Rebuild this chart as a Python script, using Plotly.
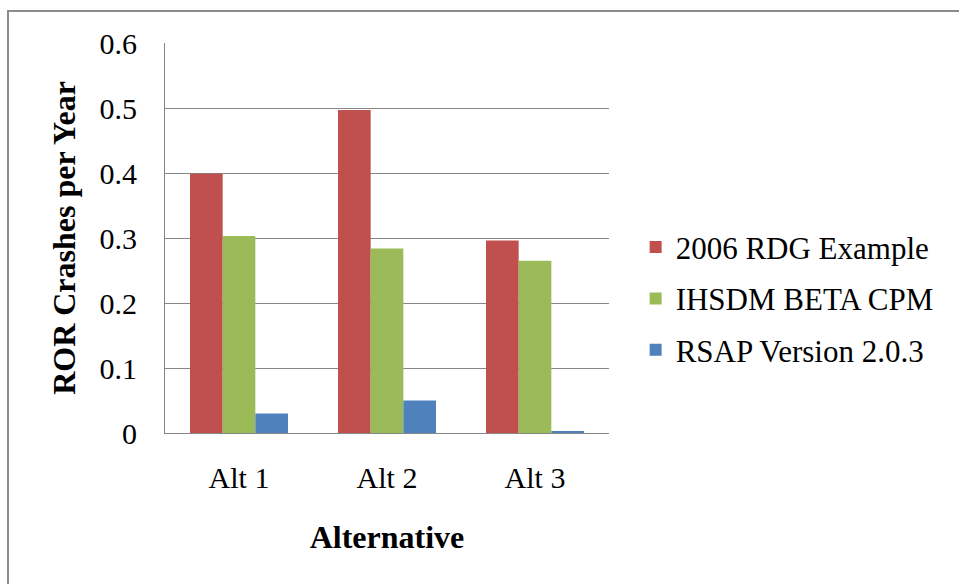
import plotly.graph_objects as go

categories = ["Alt 1", "Alt 2", "Alt 3"]
rdg_2006 = [0.399, 0.497, 0.296]
ihsdm_beta = [0.303, 0.284, 0.265]
rsap_203 = [0.030, 0.050, 0.003]
series_names = ["2006 RDG Example", "IHSDM BETA CPM", "RSAP Version 2.0.3"]
colors = ["#C0504D", "#9BBB59", "#4F81BD"]
y_ticks = [0, 0.1, 0.2, 0.3, 0.4, 0.5, 0.6]
y_tick_text = ["0", "0.1", "0.2", "0.3", "0.4", "0.5", "0.6"]

fig = go.Figure()
for name, vals, col in zip(series_names, [rdg_2006, ihsdm_beta, rsap_203], colors):
    fig.add_trace(go.Bar(x=categories, y=vals, name=name, marker_color=col,
                         marker_line_width=0, legendgroup=name))

font = "Liberation Serif"
fig.update_layout(
    width=959, height=584,
    margin=dict(l=165, r=350, t=43, b=151, autoexpand=False),
    paper_bgcolor="white", plot_bgcolor="white",
    barmode="group", bargap=0.338, bargroupgap=0,
    font=dict(family=font, color="black", size=30),
    showlegend=True,
    legend=dict(x=1.06, xanchor="left", y=0.345, yanchor="middle",
                font=dict(size=31, family=font, color="black"), tracegroupgap=8,
                traceorder="grouped", bgcolor="rgba(0,0,0,0)"),
    xaxis=dict(showline=True, linecolor="#868686", linewidth=1, ticks="",
               tickfont=dict(size=30, family=font, color="black"), ticklabelstandoff=18,
               title=dict(text="<b>Alternative</b>", font=dict(size=32, family=font, color="black"), standoff=32),
               automargin=False),
    yaxis=dict(range=[0, 0.6], tickvals=y_ticks, ticktext=y_tick_text,
               showline=True, linecolor="#868686", linewidth=1,
               showgrid=True, gridcolor="#868686", gridwidth=1, zeroline=False,
               ticks="", tickfont=dict(size=30, family=font, color="black"), ticklabelstandoff=21,
               title=dict(text="<b>ROR Crashes per Year</b>", font=dict(size=32, family=font, color="black"), standoff=14),
               automargin=False),
)

fig.add_shape(type="rect", xref="paper", yref="paper",
              x0=(8 - 165) / 444, x1=2.0, y0=-1.0, y1=(433 - 11) / 390,
              line=dict(color="#8c8c8c", width=2), fillcolor="rgba(0,0,0,0)", layer="below")

fig.write_html("out.html")
